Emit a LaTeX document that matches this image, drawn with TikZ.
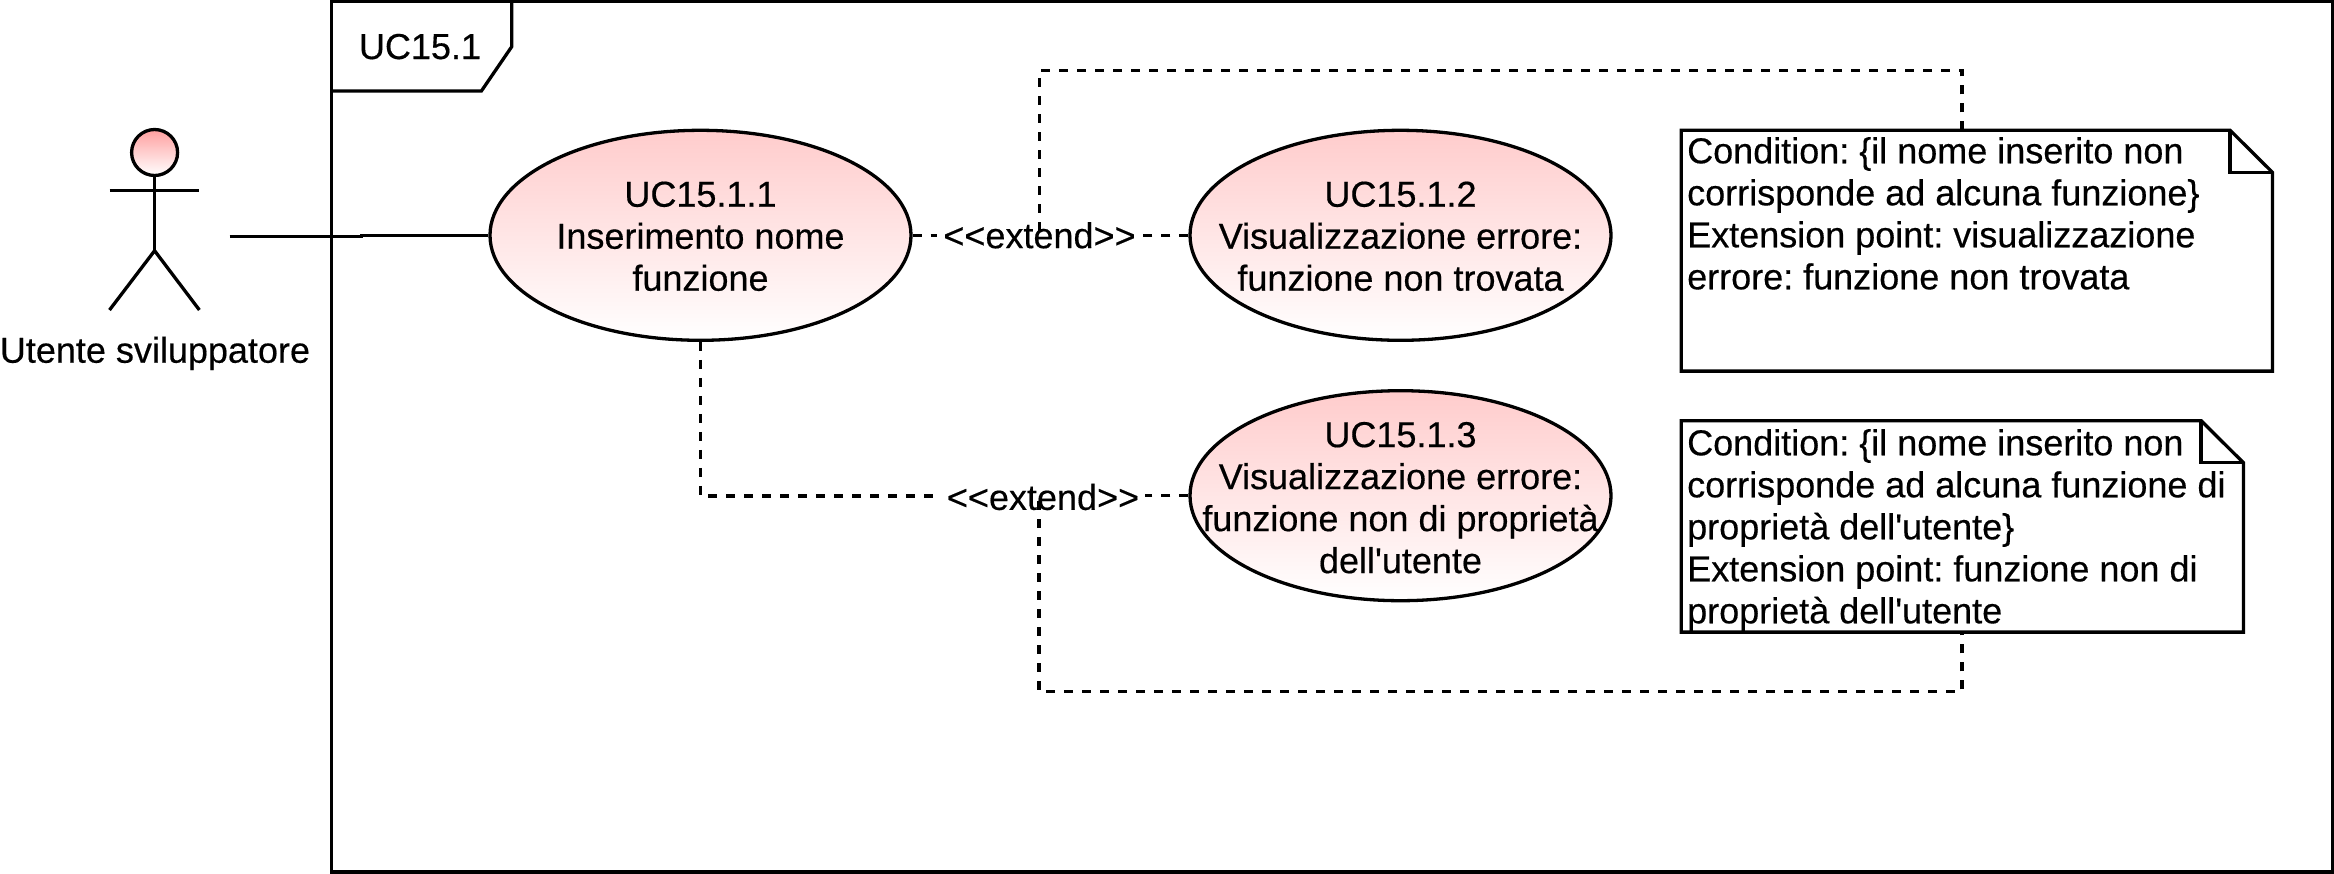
\documentclass[tikz,border=0pt]{standalone}
\usepackage{fontspec}
\setmainfont[FakeBold=0.4,AutoFakeBold=false]{Liberation Sans}
\usetikzlibrary{shapes.geometric,calc}
\tikzset{
  x=1pt,y=-1pt,
  ln/.style={line width=3.3pt,black},
  dsh/.style={line width=3.3pt,black,dash pattern=on 9pt off 9pt},
  usecase/.style={ellipse,draw,line width=3.3pt,minimum width=421pt,minimum height=210pt,inner sep=0pt,top color=ucpink,bottom color=white},
  txt/.style={inner sep=0pt,align=center,font=\fontsize{36}{42}\selectfont},
  notetxt/.style={inner sep=0pt,align=left,anchor=north west,font=\fontsize{36}{42}\selectfont},
  lab/.style={inner ysep=1pt,inner xsep=6pt,font=\fontsize{36}{42}\selectfont},
  box/.style={rectangle,inner sep=0pt,anchor=north west}
}
\definecolor{ucpink}{HTML}{FFCCCC}
\definecolor{headpink}{HTML}{FF9F9F}
\frenchspacing
\begin{document}
\begin{tikzpicture}
\useasboundingbox (0,0) rectangle (2334,873);
% frame
\node[box,minimum width=2001pt,minimum height=870pt] (frame) at (331.4,1.5) {};
\draw[ln] (frame.north west) rectangle (frame.south east);
\coordinate (t1) at (511.7,1.5);
\coordinate (t2) at (511.7,46.7);
\coordinate (t3) at (481.4,91);
\coordinate (t4) at (331.4,91);
\draw[ln] (t1) -- (t2) -- (t3) -- (t4);
\node[inner sep=0pt,anchor=base,font=\fontsize{36}{42}\selectfont] (tabt) at (420,59) {UC15.1};
% actor
\node[circle,draw,line width=3.3pt,minimum size=46pt,inner sep=0pt,top color=headpink,bottom color=white] (head) at (154.6,152.5) {};
\coordinate (hip) at (154.6,250.7);
\coordinate (al) at (109.5,190.3);
\coordinate (ar) at (199.4,190.3);
\coordinate (ll) at (109.5,310);
\coordinate (lr) at (199.4,310);
\draw[ln] (head.south) -- (hip);
\draw[ln] (al) -- (ar);
\draw[ln] (ll) -- (hip) -- (lr);
\node[inner sep=0pt,anchor=base,font=\fontsize{36}{42}\selectfont] (actor) at (155,362.7) {Utente sviluppatore};
% use cases
\node[usecase] (e1) at (700.5,235.3) {};
\node[usecase] (e2) at (1400.5,235.3) {};
\node[usecase] (e3) at (1400.5,495.7) {};
\node[txt] (t-e1) at ($(e1.center)+(0,1)$) {UC15.1.1\\Inserimento nome\\funzione};
\node[txt] (t-e2) at ($(e2.center)+(0,1)$) {UC15.1.2\\Visualizzazione errore:\\funzione non trovata};
\node[txt] (t-e3) at ($(e3.center)+(0,2)$) {UC15.1.3\\Visualizzazione errore:\\funzione non di proprietà\\dell\textquotesingle utente};
% notes
\node[box,minimum width=590.7pt,minimum height=240.4pt] (n1) at (1681.3,130.3) {};
\node[box,minimum width=561.7pt,minimum height=211pt] (n2) at (1681.3,420.7) {};
\draw[ln,line join=miter] (n1.north west) -- ($(n1.north east)+(-42.3,0)$) -- ($(n1.north east)+(0,42)$) -- (n1.south east) -- (n1.south west) -- cycle;
\draw[ln] ($(n1.north east)+(-42.3,0)$) |- ($(n1.north east)+(0,42)$);
\draw[ln,line join=miter] (n2.north west) -- ($(n2.north east)+(-42.3,0)$) -- ($(n2.north east)+(0,42)$) -- (n2.south east) -- (n2.south west) -- cycle;
\draw[ln] ($(n2.north east)+(-42.3,0)$) |- ($(n2.north east)+(0,42)$);
\node[notetxt] (nt1) at (1687,137) {Condition: \{il nome inserito non\\corrisponde ad alcuna funzione\}\\Extension point: visualizzazione\\errore: funzione non trovata};
\node[notetxt] (nt2) at (1687,429) {Condition: \{il nome inserito non\\corrisponde ad alcuna funzione di\\proprietà dell\textquotesingle utente\}\\Extension point: funzione non di\\proprietà dell\textquotesingle utente};
% connectors
\node[lab] (l1) at (1039.5,235.3) {<{}<extend>{}>};
\node[lab] (l2) at (1043,497) {<{}<extend>{}>};
\coordinate (a1) at (229.6,236.5);
\coordinate (a2) at (361.5,236.5);
\coordinate (a3) at (361.5,235.3);
\draw[ln] (a1) -- (a2) -- (a3) -- (e1.west);
\coordinate (c1) at (1039.3,232);
\coordinate (c2) at (1039.3,70.7);
\coordinate (c3) at (1962,70.7);
\coordinate (c4) at (1962,130.3);
\draw[dsh] (c4) -- (c3) -- (c2) -- (c1);
\draw[dsh] (e1.east) -- (l1.west);
\draw[dsh] (e2.west) -- (l1.east);
\coordinate (d1) at (700.5,496);
\coordinate (d2) at (1039,501);
\coordinate (d3) at (1039,691.7);
\coordinate (d4) at (1962,691.7);
\coordinate (d5) at (1962,631.7);
\draw[dsh] (e1.south) -- (d1) -- (d1 -| l2.west);
\draw[dsh] (e3.west) -- (e3.west -| l2.east);
\draw[dsh] (d2) -- (d3) -- (d4) -- (d5);
\end{tikzpicture}
\end{document}
